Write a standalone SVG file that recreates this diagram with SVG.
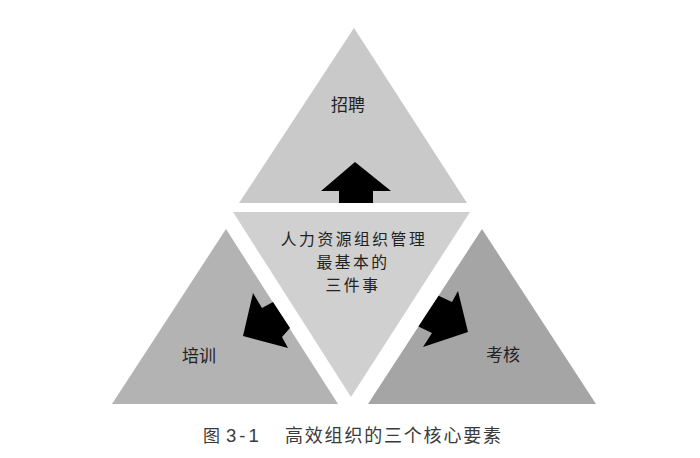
<svg xmlns="http://www.w3.org/2000/svg" width="700" height="458" viewBox="0 0 700 458">
<style>
.lbl{font-family:"Noto Sans CJK SC","Noto Sans",sans-serif;font-size:17px;fill:#222;text-anchor:middle;dominant-baseline:central}
.ctr{font-size:15.8px;letter-spacing:2.5px}
.arrow{fill:#000}
.cap{font-family:"Noto Sans CJK SC","Liberation Sans",sans-serif;font-size:18px;fill:#3a3a3a}
</style>
<rect width="700" height="458" fill="#fff"/>
<g id="top">
<polygon points="354,28 239,203 467,203" fill="#c9c9c9"/>
<text class="lbl" x="348" y="103">招聘</text>
</g>
<g id="center">
<polygon points="233,212 470,212 351,397" fill="#d0d0d0"/>
<text class="lbl ctr" x="354" y="238">人力资源组织管理</text>
<text class="lbl ctr" x="353" y="261">最基本的</text>
<text class="lbl ctr" x="353" y="284">三件事</text>
</g>
<g id="left">
<polygon points="226,229 112,404 338,404" fill="#b3b3b3"/>
<text class="lbl" x="199" y="354">培训</text>
</g>
<g id="right">
<polygon points="482,229 368,404 596,404" fill="#a5a5a5"/>
<text class="lbl" x="503" y="353">考核</text>
</g>
<g id="connectors">
<polygon class="arrow" points="355,162 321,191 339,191 339,203 373,203 373,191 391,191"/>
<polygon class="arrow" points="243,336 253,293 262,308 273,302 290,328 282,337 288,348"/>
<polygon class="arrow" points="468,332 458,291 452,302 438.6,295.7 418.4,326.6 432,333 423,347"/>
</g>
<g id="caption">
<text class="cap" x="203" y="442"><tspan font-size="17">图</tspan><tspan x="226" font-family="Liberation Sans" font-size="18.5" letter-spacing="3">3-1</tspan><tspan x="285" letter-spacing="1.8">高效组织的三个核心要素</tspan></text>
</g>
</svg>
